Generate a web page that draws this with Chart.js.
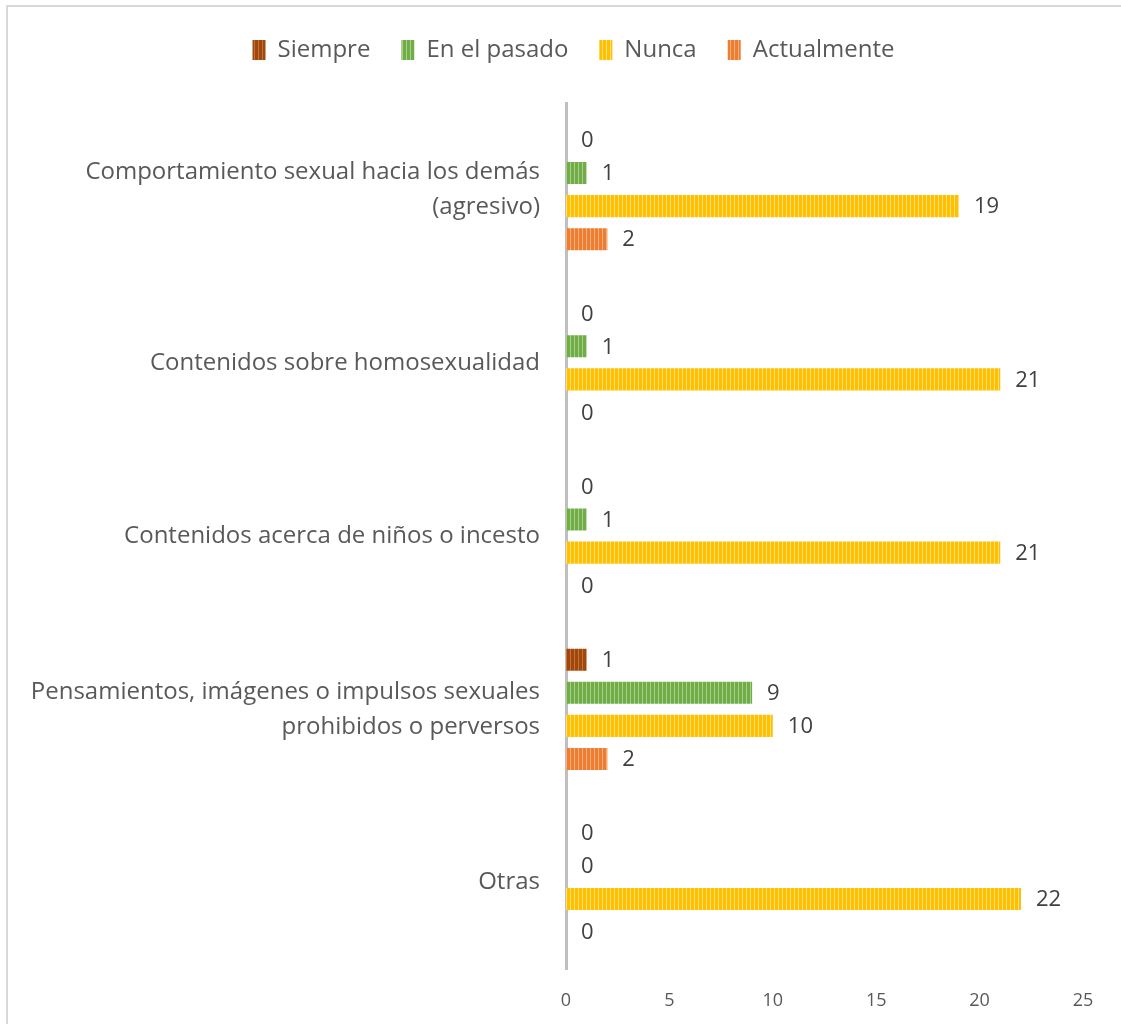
<!DOCTYPE html>
<html>
<head>
<meta charset="utf-8">
<script src="https://cdn.jsdelivr.net/npm/chart.js@4"></script>
<style>
  html, body { margin: 0; padding: 0; background: #fff; overflow: hidden; }
  #frame {
    position: absolute; left: 6px; top: 5px;
    width: 1120px; height: 1030px;
    border-left: 2px solid #d9d9d9; border-top: 2px solid #d9d9d9;
  }
  #chart { position: absolute; left: 0; top: 0; }
</style>
</head>
<body>
<div id="frame"><canvas id="chart" width="1113" height="1023"></canvas></div>
<script>
const categories = [
  ['Comportamiento sexual hacia los demás', '(agresivo)'],
  'Contenidos sobre homosexualidad',
  'Contenidos acerca de niños o incesto',
  ['Pensamientos, imágenes o impulsos sexuales', 'prohibidos o perversos'],
  'Otras'
];
const seriesNames = ['Siempre', 'En el pasado', 'Nunca', 'Actualmente'];
const siempre = [0, 0, 0, 1, 0];
const enElPasado = [1, 1, 1, 9, 0];
const nunca = [19, 21, 21, 10, 22];
const actualmente = [2, 0, 0, 2, 0];
const xTicks = [0, 5, 10, 15, 20, 25];

const baseColors = ['#9e480e', '#70ad47', '#ffc000', '#ed7d31'];
const stripeColors = ['#c8703a', '#a6d08a', '#ffe07a', '#f6b07e'];

// narrow vertical stripes, like the Office "dark vertical" fill
function stripes(base, light) {
  const c = document.createElement('canvas');
  c.width = 4; c.height = 4;
  const g = c.getContext('2d');
  g.fillStyle = base;
  g.fillRect(0, 0, 4, 4);
  g.fillStyle = light;
  g.fillRect(2, 0, 1, 4);
  return g.createPattern(c, 'repeat');
}

const ctx = document.getElementById('chart').getContext('2d');
const fills = baseColors.map((c, i) => stripes(c, stripeColors[i]));

const valueLabels = {
  id: 'valueLabels',
  afterDatasetsDraw(chart) {
    const g = chart.ctx;
    g.save();
    g.font = '22px "Open Sans"';
    g.fillStyle = '#404040';
    g.textAlign = 'left';
    g.textBaseline = 'middle';
    chart.data.datasets.forEach((ds, di) => {
      chart.getDatasetMeta(di).data.forEach((bar, i) => {
        g.fillText(String(ds.data[i]), bar.x + 15, bar.y + 1);
      });
    });
    g.restore();
  }
};

// extra room under the legend, and nudge it right a bit
const legendTweak = {
  id: 'legendTweak',
  beforeInit(chart) {
    const fit = chart.legend.fit;
    chart.legend.fit = function () {
      fit.bind(chart.legend)();
      this.height += 31;
    };
  },
  afterLayout(chart) {
    const lg = chart.legend;
    lg.left += 28;
    lg.right += 28;
    lg.adjustHitBoxes();
  }
};

const seriesData = [siempre, enElPasado, nunca, actualmente];

new Chart(ctx, {
  type: 'bar',
  data: {
    labels: categories,
    datasets: seriesNames.map((name, i) => ({
      label: name,
      data: seriesData[i],
      backgroundColor: fills[i],
      borderWidth: 0,
      barPercentage: 0.667,
      categoryPercentage: 0.763
    }))
  },
  options: {
    indexAxis: 'y',
    responsive: false,
    animation: false,
    layout: { padding: { top: 0, right: 38, bottom: 0, left: 0 } },
    plugins: {
      legend: {
        position: 'top',
        labels: {
          font: { family: 'Open Sans', size: 24 },
          color: '#595959',
          boxWidth: 13,
          boxHeight: 20,
          padding: 31
        }
      },
      tooltip: { enabled: false }
    },
    scales: {
      x: {
        min: 0,
        max: 25,
        afterBuildTicks: (s) => { s.ticks = xTicks.map(v => ({ value: v })); },
        grid: { display: false },
        border: { display: false },
        ticks: {
          font: { family: 'Open Sans', size: 18 },
          color: '#595959',
          padding: 13
        }
      },
      y: {
        afterFit: (s) => { s.width = 558; },
        grid: { display: false, drawTicks: false },
        border: { display: true, color: '#bfbfbf', width: 3 },
        ticks: {
          font: { family: 'Open Sans', size: 24, lineHeight: 1.45 },
          color: '#595959',
          padding: 26
        }
      }
    }
  },
  plugins: [valueLabels, legendTweak]
});
</script>
</body>
</html>
